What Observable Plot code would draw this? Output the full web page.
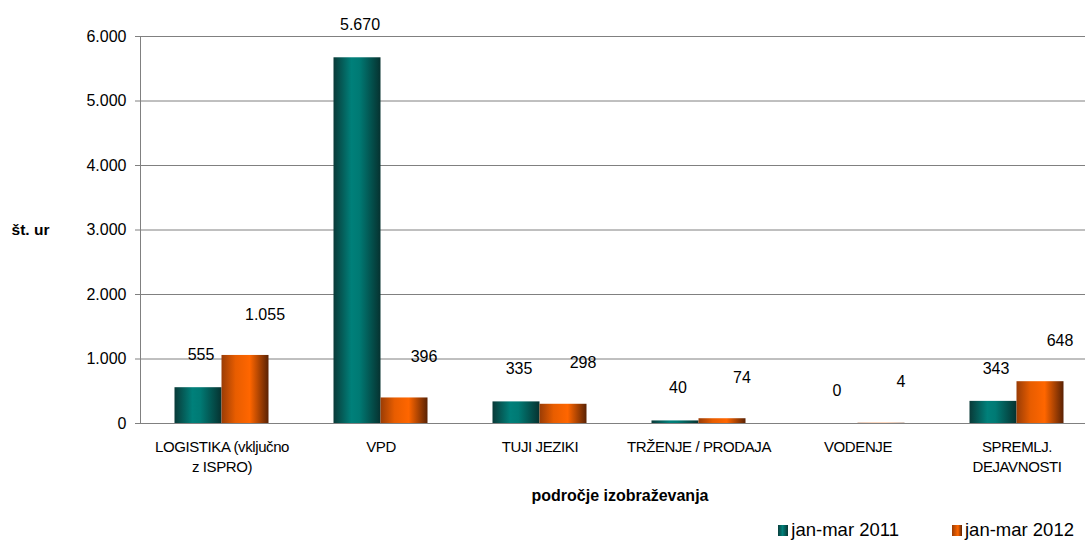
<!DOCTYPE html>
<html><head><meta charset="utf-8">
<script src="https://cdn.jsdelivr.net/npm/d3@7"></script>
<script src="https://cdn.jsdelivr.net/npm/@observablehq/plot@0.6"></script>
<style>
body{margin:0;background:#fff;font-family:"Liberation Sans",Arial,sans-serif}
#chart svg [aria-label="x-axis tick label"] text{letter-spacing:-0.4px}
.legend{height:30px;display:flex;justify-content:flex-end;align-items:center;padding-right:15px;font-size:18.5px;color:#000}
.legend .item{display:flex;align-items:center;margin-left:53px}
.legend .sw{width:10px;height:11px;margin-right:3px}
</style>
</head><body><div id="chart"></div><script>
const categories = ["LOGISTIKA (vključno\nz ISPRO)", "VPD", "TUJI JEZIKI", "TRŽENJE / PRODAJA", "VODENJE", "SPREMLJ.\nDEJAVNOSTI"];
const series = ["jan-mar 2011", "jan-mar 2012"];
const values2011 = [555, 5670, 335, 40, 0, 343];
const values2012 = [1055, 396, 298, 74, 4, 648];
const yTicks = [0, 1000, 2000, 3000, 4000, 5000, 6000];
const yLabel = "št. ur";
const xLabel = "področje izobraževanja";

const rows2011 = categories.map((c, i) => ({cat: c, series: series[0], value: values2011[i]}));
const rows2012 = categories.map((c, i) => ({cat: c, series: series[1], value: values2012[i]}));
const fmt = d3.formatLocale({decimal: ",", thousands: ".", grouping: [3], currency: ["", "€"]}).format(",d");

const svg = Plot.plot({
  width: 1089, height: 515,
  marginLeft: 140, marginRight: 4, marginTop: 36, marginBottom: 92,
  style: {fontFamily: '"Liberation Sans", Arial, sans-serif', background: "#fff", color: "#000"},
  x: {domain: categories, padding: 0, range: [141, 1096]},
  y: {domain: [0, 6000]},
  marks: [
    Plot.gridY(yTicks, {stroke: "#808080", strokeOpacity: 1, strokeWidth: 1}),
    Plot.frame({anchor: "left", stroke: "#808080"}),
    Plot.axisY(yTicks, {tickFormat: fmt, tickSize: 5, tickPadding: 9, fontSize: 16, stroke: "#808080", fill: "#000", label: null}),
    Plot.axisX({tickSize: 0, tickPadding: 14, fontSize: 15, lineHeight: 1.35, label: null, fill: "#000"}),
    Plot.barY(rows2011, {x: "cat", y: "value", fill: "url(#gTeal)", insetLeft: 32.5, insetRight: 79.5}),
    Plot.barY(rows2012, {x: "cat", y: "value", fill: "url(#gOrange)", insetLeft: 79.5, insetRight: 32.5}),
    Plot.text(rows2011, {x: "cat", y: "value", text: d => fmt(d.value), dx: -21, dy: -33, fontSize: 16, fill: "#000"}),
    Plot.text(rows2012, {x: "cat", y: "value", text: d => fmt(d.value), dx: 43, dy: -41, fontSize: 16, fill: "#000"}),
    Plot.text([yLabel], {text: d => d, frameAnchor: "left", textAnchor: "middle", dx: -110, fontWeight: "bold", fontSize: 15.5, fill: "#000"}),
    Plot.text([xLabel], {text: d => d, frameAnchor: "bottom", textAnchor: "middle", dx: 7, dy: 77, fontWeight: "bold", fontSize: 16, fill: "#000"})
  ]
});

const defs = d3.select(svg).insert("defs", ":first-child");
function grad(id, stops) {
  const g = defs.append("linearGradient").attr("id", id).attr("x1", "0").attr("x2", "1").attr("y1", "0").attr("y2", "0");
  stops.forEach(([o, c]) => g.append("stop").attr("offset", o).attr("stop-color", c));
}
grad("gTeal", [[0, "#093a38"], [0.38, "#00807a"], [0.55, "#007a74"], [1, "#063230"]]);
grad("gOrange", [[0, "#9a3c05"], [0.3, "#e85d00"], [0.6, "#ff6600"], [1, "#5a2204"]]);

document.getElementById("chart").appendChild(svg);

const legend = document.createElement("div");
legend.className = "legend";
[[series[0], "linear-gradient(to right,#0b3f3d,#00807a 45%,#073633)"],
 [series[1], "linear-gradient(to right,#9a3c05,#ff6600 60%,#5a2204)"]].forEach(([name, bg]) => {
  const item = document.createElement("div"); item.className = "item";
  const sw = document.createElement("div"); sw.className = "sw"; sw.style.background = bg;
  const t = document.createElement("span"); t.textContent = name;
  item.appendChild(sw); item.appendChild(t); legend.appendChild(item);
});
document.getElementById("chart").appendChild(legend);
</script></body></html>
